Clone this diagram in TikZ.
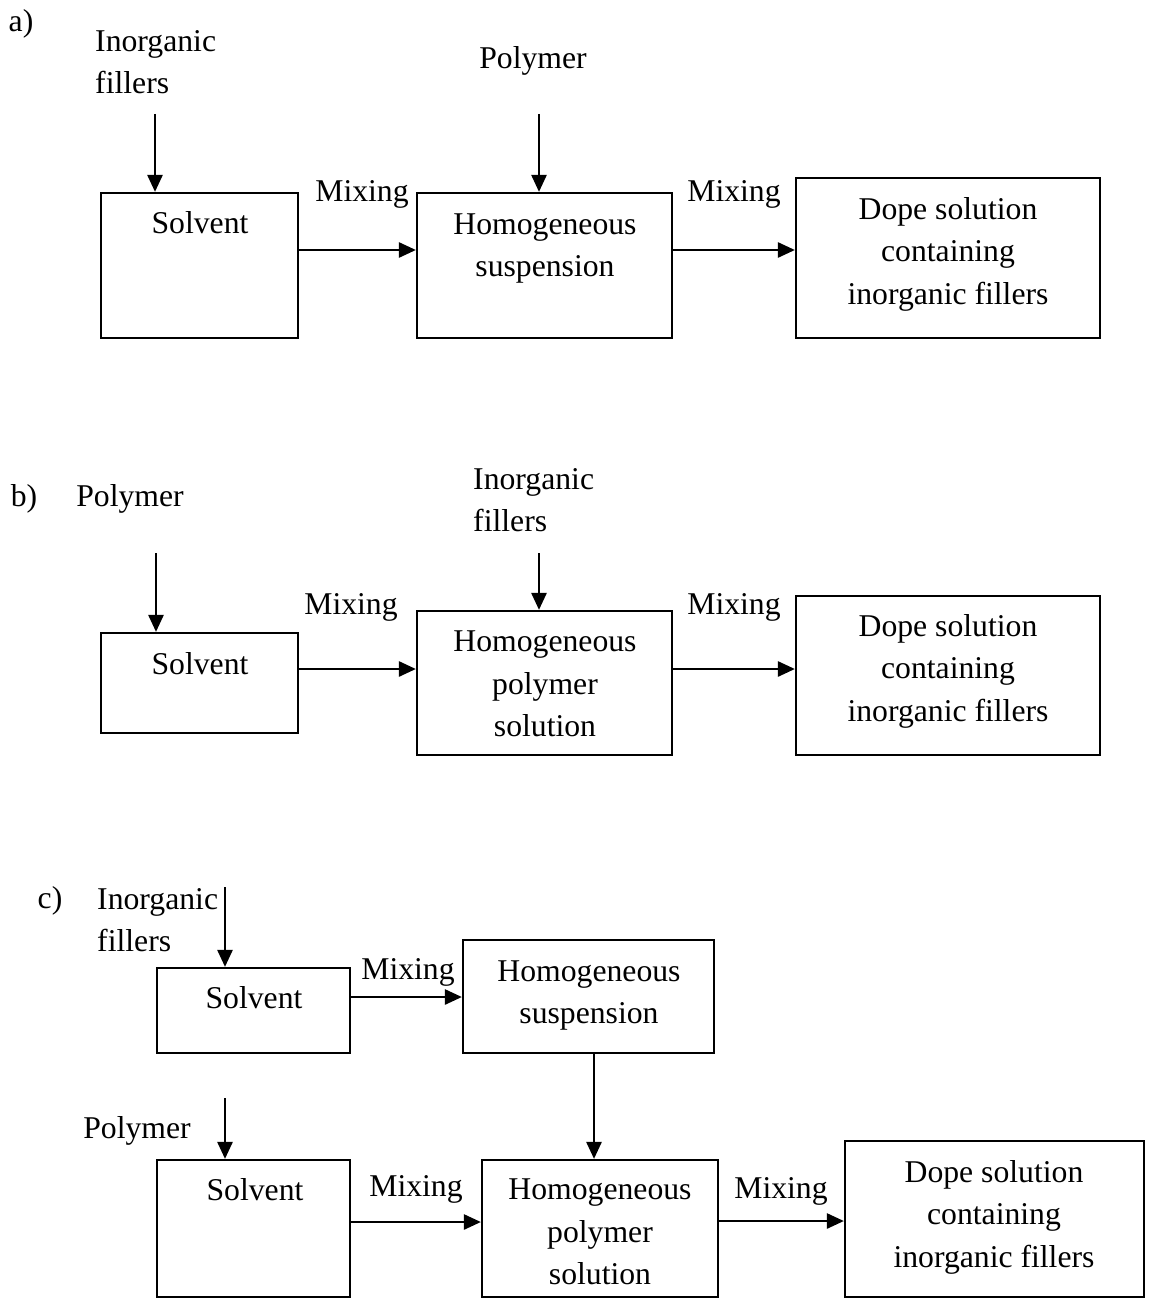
\documentclass[tikz,border=0pt]{standalone}
\usepackage{fontspec}
\setmainfont{Liberation Serif}
\usetikzlibrary{arrows.meta,positioning}

\begin{document}
\begin{tikzpicture}[x=1pt,y=-1pt,font=\fontsize{31.7}{42.5}\selectfont,
                box/.style={draw,line width=2.2pt,inner sep=0pt},
                txt/.style={inner sep=0pt,align=center,text depth=0.22em},
                flow/.style={-{Triangle[length=17pt,width=15pt]},line width=2.6pt},
                line cap=butt,line join=miter]
            \useasboundingbox (0,0) rectangle (1154,1300);

            % a)
            \node[txt] (labA) at (21,22) {a)};
            \node[txt,align=left,anchor=west] (infA) at (95,63) {Inorganic\\fillers};
            \node[txt] (polA) at (533,59) {Polymer};
            \node[box,minimum width=197pt,minimum height=145pt] (solA) at (199.5,265.5) {};
            \node[box,minimum width=255pt,minimum height=145pt] (hsA) at (544.5,265.5) {};
            \node[box,minimum width=304pt,minimum height=160pt] (dopeA) at (948,258) {};
            \node[txt] (solAt) at (200,224) {Solvent};
            \node[txt] (hsAt) at (545,246) {Homogeneous\\suspension};
            \node[txt] (dopeAt) at (948,252) {Dope solution\\containing\\inorganic fillers};
            \node[txt] (mixA1) at (362,192) {Mixing};
            \node[txt] (mixA2) at (734,192) {Mixing};
            \coordinate (inA1) at (155,114);
            \coordinate (inA2) at (539,114);
            \draw[flow] (inA1) -- (inA1 |- solA.north);
            \draw[flow] (inA2) -- (inA2 |- hsA.north);
            \draw[flow] ([yshift=15.5pt]solA.east) coordinate (a1) -- (a1 -| hsA.west);
            \draw[flow] ([yshift=15.5pt]hsA.east) coordinate (a2) -- (a2 -| dopeA.west);

            % b)
            \node[txt] (labB) at (24,497) {b)};
            \node[txt] (polB) at (130,497) {Polymer};
            \node[txt,align=left,anchor=west] (infB) at (473,501) {Inorganic\\fillers};
            \node[box,minimum width=197pt,minimum height=100pt] (solB) at (199.5,683) {};
            \node[box,minimum width=255pt,minimum height=144pt] (hpsB) at (544.5,683) {};
            \node[box,minimum width=304pt,minimum height=159pt] (dopeB) at (948,675.5) {};
            \node[txt] (solBt) at (200,665) {Solvent};
            \node[txt] (hpsBt) at (545,685) {Homogeneous\\polymer\\solution};
            \node[txt] (dopeBt) at (948,669) {Dope solution\\containing\\inorganic fillers};
            \node[txt] (mixB1) at (351,605) {Mixing};
            \node[txt] (mixB2) at (734,605) {Mixing};
            \coordinate (inB1) at (156,553);
            \coordinate (inB2) at (539,553);
            \draw[flow] (inB1) -- (inB1 |- solB.north);
            \draw[flow] (inB2) -- (inB2 |- hpsB.north);
            \draw[flow] ([yshift=14pt]solB.east) coordinate (b1) -- (b1 -| hpsB.west);
            \draw[flow] ([yshift=14pt]hpsB.east) coordinate (b2) -- (b2 -| dopeB.west);

            % c)
            \node[txt] (labC) at (50,899) {c)};
            \node[txt,align=left,anchor=west] (infC) at (97,921) {Inorganic\\fillers};
            \node[txt] (polC) at (137,1129) {Polymer};
            \node[box,minimum width=193pt,minimum height=85pt] (solC) at (253.5,1010.5) {};
            \node[box,minimum width=251pt,minimum height=113pt] (hsC) at (588.5,996.5) {};
            \node[box,minimum width=193pt,minimum height=137pt] (solD) at (253.5,1228.5) {};
            \node[box,minimum width=236pt,minimum height=137pt] (hpsC) at (600,1228.5) {};
            \node[box,minimum width=299pt,minimum height=156pt] (dopeC) at (994.5,1219) {};
            \node[txt] (solCt) at (254,999) {Solvent};
            \node[txt] (hsCt) at (589,993) {Homogeneous\\suspension};
            \node[txt] (solDt) at (255,1191) {Solvent};
            \node[txt] (hpsCt) at (600,1233) {Homogeneous\\polymer\\solution};
            \node[txt] (dopeCt) at (994,1215) {Dope solution\\containing\\inorganic fillers};
            \node[txt] (mixC1) at (408,970) {Mixing};
            \node[txt] (mixC2) at (416,1187) {Mixing};
            \node[txt] (mixC3) at (781,1189) {Mixing};
            \coordinate (inC1) at (225,887);
            \coordinate (inC2) at (225,1098);
            \draw[flow] (inC1) -- (inC1 |- solC.north);
            \draw[flow] (inC2) -- (inC2 |- solD.north);
            \draw[flow] ([yshift=13.5pt]solC.east) coordinate (c1) -- (c1 -| hsC.west);
            \draw[flow] ([xshift=5.5pt]hsC.south) coordinate (c2) -- (c2 |- hpsC.north);
            \draw[flow] ([yshift=6.5pt]solD.east) coordinate (c3) -- (c3 -| hpsC.west);
            \draw[flow] ([yshift=7.5pt]hpsC.east) coordinate (c4) -- (c4 -| dopeC.west);
        \end{tikzpicture}
\end{document}
